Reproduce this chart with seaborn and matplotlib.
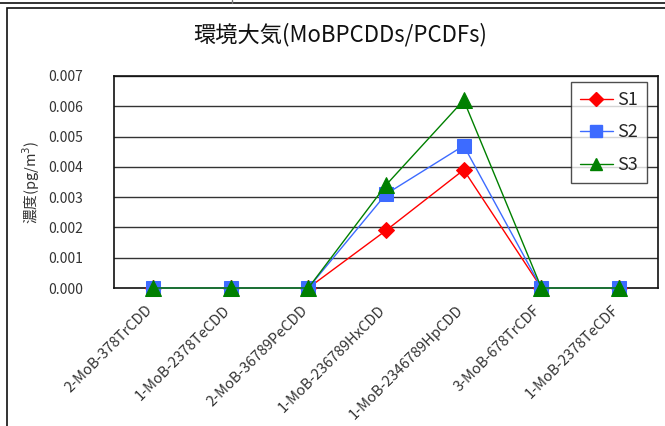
import matplotlib
matplotlib.use("Agg")
import matplotlib.pyplot as plt
import matplotlib.transforms as mtransforms
import seaborn as sns
import pandas as pd
from matplotlib.patches import Rectangle
from matplotlib.lines import Line2D

categories = ["2-MoB-378TrCDD", "1-MoB-2378TeCDD", "2-MoB-36789PeCDD",
              "1-MoB-236789HxCDD", "1-MoB-2346789HpCDD", "3-MoB-678TrCDF",
              "1-MoB-2378TeCDF"]
s1 = [0.0, 0.0, 0.0, 0.0019, 0.0039, 0.0, 0.0]
s2 = [0.0, 0.0, 0.0, 0.0031, 0.0047, 0.0, 0.0]
s3 = [0.0, 0.0, 0.0, 0.0034, 0.0062, 0.0, 0.0]
series_names = ["S1", "S2", "S3"]
yticks = [0.000, 0.001, 0.002, 0.003, 0.004, 0.005, 0.006, 0.007]

sns.set_theme(style="white")
plt.rcParams["font.family"] = ["Noto Sans CJK JP", "DejaVu Sans"]

W, H = 665, 426
fig = plt.figure(figsize=(W / 100, H / 100), dpi=100)
ax = fig.add_axes([114 / W, (H - 288) / H, (658 - 114) / W, (288 - 76) / H])

rows = []
for name, vals in zip(series_names, [s1, s2, s3]):
    for i, v in enumerate(vals):
        rows.append({"x": i, "y": v, "series": name})
df = pd.DataFrame(rows)

styles = {
    "S1": dict(color="#FF0000", marker="D", ms=8),
    "S2": dict(color="#3D6BFF", marker="s", ms=10),
    "S3": dict(color="#008000", marker="^", ms=11),
}
for name in series_names:
    st = styles[name]
    sub = df[df.series == name]
    sns.lineplot(data=sub, x="x", y="y", ax=ax, color=st["color"], marker=st["marker"],
                 markersize=st["ms"], markeredgecolor=st["color"], markerfacecolor=st["color"],
                 linewidth=1, sort=False, clip_on=False, zorder=3, legend=False)

ax.set_xlim(-0.5, len(categories) - 0.5)
ax.set_ylim(0, 0.007)
ax.set_yticks(yticks)
ax.set_yticklabels([f"{t:.3f}" for t in yticks], fontsize=10, color="#333333")
for t in yticks[1:]:
    ax.axhline(t, color="#333333", lw=1, zorder=1)

ax.set_xticks(range(len(categories)))
ax.set_xticklabels(categories, rotation=45, ha="right", rotation_mode="anchor",
                   fontsize=10.5, color="#333333")
ax.tick_params(axis="x", length=0, pad=8)
ax.tick_params(axis="y", length=0, pad=22)
offset = mtransforms.ScaledTranslation(-8 / 100, -4 / 100, fig.dpi_scale_trans)
for lab in ax.get_xticklabels():
    lab.set_transform(lab.get_transform() + offset)
ax.set_xticks([i + 0.5 for i in range(len(categories) - 1)], minor=True)
ax.tick_params(axis="x", which="minor", direction="in", length=4, color="#333333", width=1)

for sp in ax.spines.values():
    sp.set_color("#111111")
    sp.set_linewidth(1.2)
    sp.set_visible(True)

ax.set_xlabel("")
ax.set_ylabel("濃度(pg/m$^3$)", fontsize=10.5, color="#333333", labelpad=5)

fig.text(340 / W, 1 - 35 / H, "環境大気(MoBPCDDs/PCDFs)", ha="center", va="center",
         fontsize=16, color="#111111")

handles = [Line2D([0], [0], color=styles[n]["color"], marker=styles[n]["marker"],
                  markersize=styles[n]["ms"] * 0.85, lw=1) for n in series_names]
leg = fig.legend(handles, series_names, loc="upper left",
                 bbox_to_anchor=(571 / W, 1 - 82 / H), bbox_transform=fig.transFigure,
                 fontsize=13, frameon=True, fancybox=False, edgecolor="#222222",
                 handlelength=1.8, labelspacing=0.8, borderpad=0.5, handletextpad=0.25,
                 borderaxespad=0)
leg.get_frame().set_linewidth(1)

# outer frames
fig.add_artist(Line2D([0, 1], [1 - 3 / H, 1 - 3 / H], transform=fig.transFigure,
                      color="#111111", lw=1.2))
fig.add_artist(Line2D([232 / W, 232 / W], [1, 1 - 3 / H], transform=fig.transFigure,
                      color="#777777", lw=1))
fig.add_artist(Rectangle((7 / W, -0.1), 1.2, 1 - 8 / H + 0.1, transform=fig.transFigure,
                         fill=False, edgecolor="#111111", lw=1.2))

fig.savefig("out.png", dpi=100)
